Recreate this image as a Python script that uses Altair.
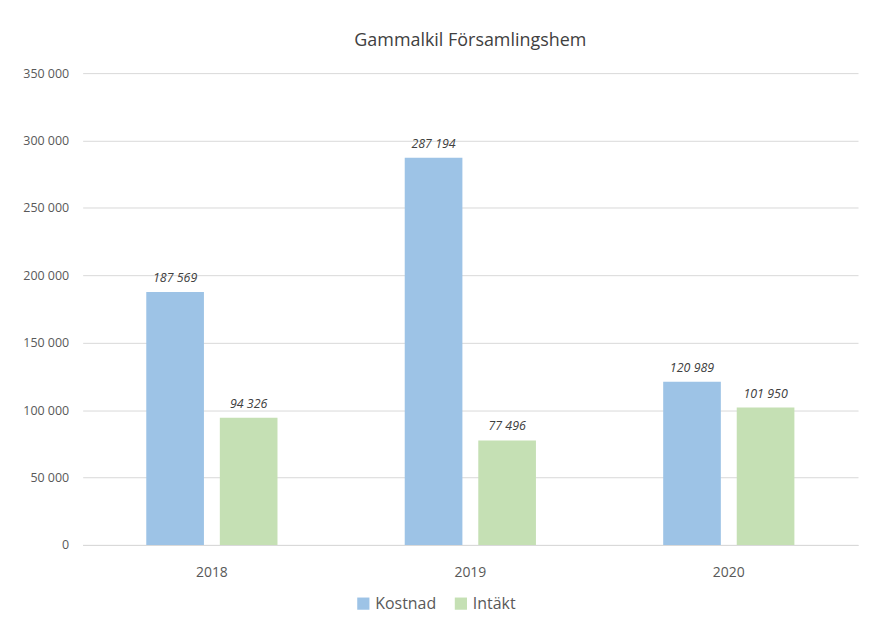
import altair as alt
import pandas as pd

years = ["2018", "2019", "2020"]
kostnad = [187569, 287194, 120989]
intakt = [94326, 77496, 101950]
series = ["Kostnad", "Intäkt"]
colors = ["#9dc3e6", "#c5e0b4"]

rows = []
for i, y in enumerate(years):
    rows.append({"year": y, "serie": "Kostnad", "value": kostnad[i]})
    rows.append({"year": y, "serie": "Intäkt", "value": intakt[i]})
df = pd.DataFrame(rows)

FONT = "Open Sans"

x = alt.X("year:N", title=None,
          scale=alt.Scale(paddingInner=0, paddingOuter=0),
          axis=alt.Axis(labelAngle=0, ticks=False, labelPadding=21, labelFontSize=14,
                        labelColor="#595959", domainColor="#d9d9d9", labelFont=FONT))
xo = alt.XOffset("serie:N", sort=series,
                 scale=alt.Scale(domain=series, paddingInner=0.216, paddingOuter=0.865))
y = alt.Y("value:Q", title=None,
          scale=alt.Scale(domain=[0, 350000]),
          axis=alt.Axis(values=list(range(0, 350001, 50000)), domain=False, ticks=False,
                        labelPadding=14, labelFontSize=12.5, labelColor="#595959",
                        labelFont=FONT, gridColor="#d9d9d9",
                        labelExpr="replace(format(datum.value, ','), ',', ' ')"))

bars = alt.Chart(df).mark_bar().encode(
    x=x, xOffset=xo, y=y,
    color=alt.Color("serie:N", sort=series,
                    scale=alt.Scale(domain=series, range=colors),
                    legend=alt.Legend(title=None, orient="none", direction="horizontal",
                                      legendX=274, legendY=525, symbolType="square",
                                      symbolSize=150, labelFontSize=16, labelColor="#595959",
                                      labelFont=FONT, columnPadding=16, symbolStrokeWidth=0)),
)

labels = alt.Chart(df).transform_calculate(
    lbl="replace(format(datum.value, ','), ',', ' ')"
).mark_text(baseline="bottom", dy=-7, fontStyle="italic", fontSize=12.5,
            color="#404040", font=FONT).encode(
    x=x, xOffset=xo, y=alt.Y("value:Q"), text="lbl:N")

chart = (bars + labels).properties(
    width=779, height=474,
    title=alt.TitleParams("Gammalkil Församlingshem", fontSize=18, font=FONT,
                          fontWeight="normal", color="#404040", offset=17, anchor="middle"),
    autosize=alt.AutoSizeParams(type="none"),
    padding={"left": 75, "top": 64, "right": 5, "bottom": 70},
).configure_view(stroke=None)

chart.save("out.html", embed_options={"renderer": "svg", "actions": False})
